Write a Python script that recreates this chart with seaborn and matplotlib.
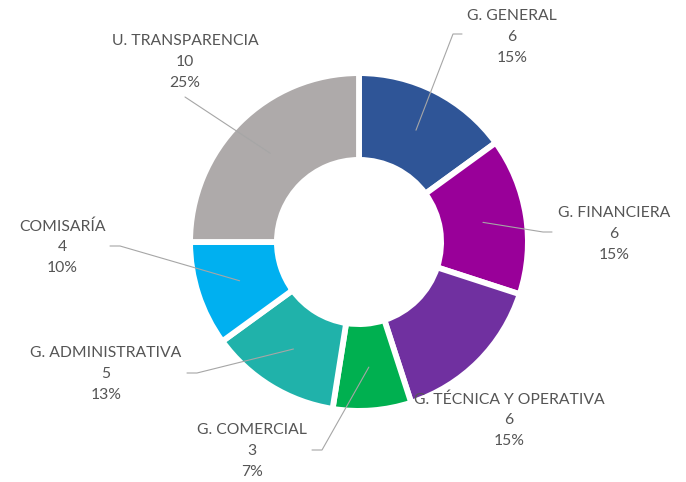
import numpy as np
import matplotlib.pyplot as plt
import seaborn as sns

# chart data
areas = ["G. GENERAL", "G. FINANCIERA", "G. TÉCNICA Y OPERATIVA", "G. COMERCIAL",
         "G. ADMINISTRATIVA", "COMISARÍA", "U. TRANSPARENCIA"]
counts = [6, 6, 6, 3, 5, 4, 10]
pct_labels = ["15%", "15%", "15%", "7%", "13%", "10%", "25%"]
colors = ["#2F5597", "#990099", "#7030A0", "#00B050", "#20B2AA", "#00B0F0", "#AEAAAA"]

W, H = 686, 482
cx, cy = 359, 242          # donut centre (pixels from top-left)
r_out, r_in = 166, 85
gap = 4.2                  # white separator, points

# label layout: text centre, leader elbow, leader end (pixels from top-left)
text_pos = [(512, 37), (614, 234), (509, 420), (252, 451), (106, 374), (62, 247), (185, 62)]
elbows = [(453, 34), (543, 232), None, (322, 450), (197, 373), (120, 246), (185, 97)]
ends = [(462, 34), (552, 232), None, (312, 450), (187, 373), (110, 246), None]

sns.set_theme(style="white")
plt.rcParams["font.family"] = ["Lato", "DejaVu Sans"]

fig = plt.figure(figsize=(W / 100, H / 100), dpi=100)
ax = fig.add_axes([0, 0, 1, 1])

def fy(y):
    return H - y

lw_data = gap * 100 / 72
wedges, _ = ax.pie(counts, colors=sns.color_palette(colors), startangle=90, counterclock=False,
                   center=(cx, fy(cy)), radius=r_out + lw_data / 2,
                   wedgeprops=dict(width=r_out - r_in + lw_data, edgecolor="white", linewidth=gap))
ax.set_xlim(0, W)
ax.set_ylim(0, H)
ax.set_aspect("equal")
ax.axis("off")

total = sum(counts)
cum = np.cumsum([0] + counts[:-1])
r_mid = (r_out + r_in) / 2
for i, name in enumerate(areas):
    ang = np.deg2rad(90 - (cum[i] + counts[i] / 2) / total * 360)
    sx, sy = cx + r_mid * np.cos(ang), fy(cy) + r_mid * np.sin(ang)
    if elbows[i] is not None:
        xs, ys = [sx, elbows[i][0]], [sy, fy(elbows[i][1])]
        if ends[i] is not None:
            xs.append(ends[i][0])
            ys.append(fy(ends[i][1]))
        ax.plot(xs, ys, color="#A6A6A6", lw=0.8, zorder=3)
    tx, ty = text_pos[i]
    ax.text(tx, fy(ty), f"{name}\n{counts[i]}\n{pct_labels[i]}", ha="center", va="center",
            fontsize=11.3, color="#555555", linespacing=1.6, zorder=4)

fig.savefig("out.png", dpi=100)
